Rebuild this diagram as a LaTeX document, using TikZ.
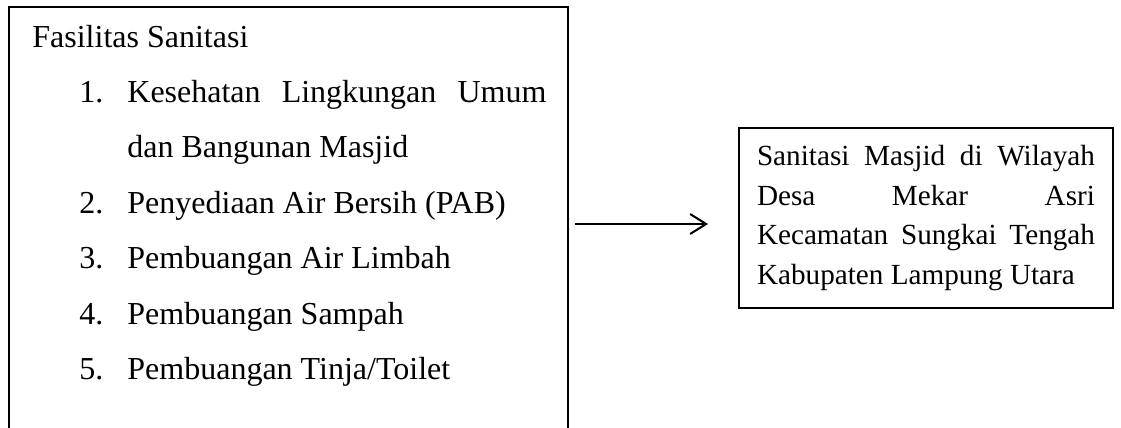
\documentclass[tikz,border=0pt]{standalone}
\usepackage{fontspec}
\setmainfont{Liberation Serif}
\usetikzlibrary{arrows.meta,positioning}

\begin{document}
\begin{tikzpicture}[x=0.5pt, y=-0.5pt,
    box/.style={rectangle, draw, line width=1pt, outer sep=0pt},
    txt/.style={anchor=base west, inner sep=0pt,
                font=\fontsize{16}{27.6}\selectfont},
    arr/.style={-{Straight Barb[length=8pt, width=10pt]}, line width=1pt}]
    \useasboundingbox (0,0) rectangle (1121,428);

    %% Left box -- facilities
    \node[box, anchor=north west, minimum width=279.5pt,
          minimum height=217pt] (lbox) at (9,7) {};
    \node[txt] (title) at (32,47) {Fasilitas Sanitasi};
    \node[txt] (num1) at (79,102) {1.};
    \node[txt, text width=209.5pt, align=justify] (item1) at (127,102)
      {\tolerance=10000 Kesehatan Lingkungan Umum\linebreak dan Bangunan Masjid};
    \node[txt] (num2) at (79,213) {2.};
    \node[txt] (item2) at (127,213) {Penyediaan Air Bersih (PAB)};
    \node[txt] (num3) at (79,268) {3.};
    \node[txt] (item3) at (127,268) {Pembuangan Air Limbah};
    \node[txt] (num4) at (79,324) {4.};
    \node[txt] (item4) at (127,324) {Pembuangan Sampah};
    \node[txt] (num5) at (79,379) {5.};
    \node[txt] (item5) at (127,379) {Pembuangan Tinja/Toilet};

    %% Right box -- location
    \node[box, right=85.5pt of lbox, yshift=3pt, minimum width=187pt,
          minimum height=90pt, text width=169pt, inner xsep=9pt,
          align=justify, font=\fontsize{14.6}{19.75}\selectfont] (rbox)
      {\tolerance=10000 Sanitasi Masjid di Wilayah\linebreak
       Desa Mekar Asri\linebreak Kecamatan Sungkai Tengah\linebreak
       Kabupaten Lampung Utara};

    %% Arrow
    \draw[arr, shorten <=3.5pt, shorten >=15.5pt] (lbox.east) -- (lbox.east -| rbox.west);
\end{tikzpicture}
\end{document}
